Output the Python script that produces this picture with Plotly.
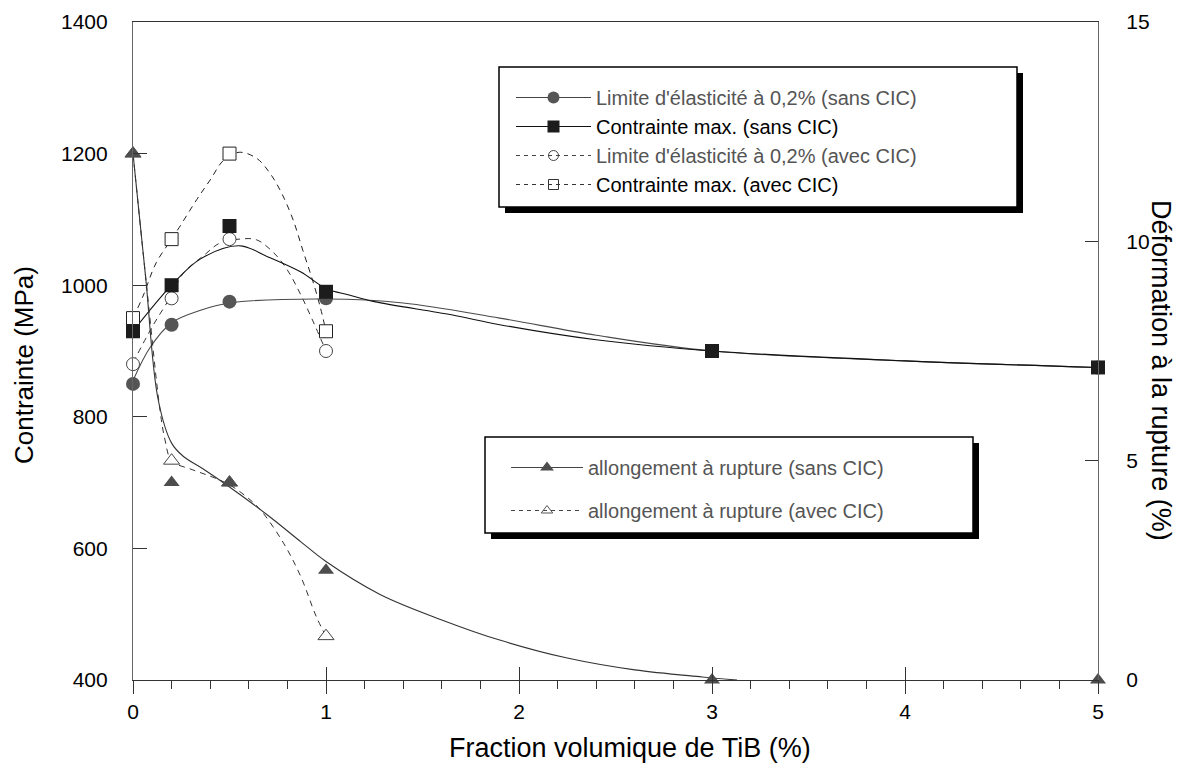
import plotly.graph_objects as go

# ---------------- data ----------------
x_sans = [0, 0.2, 0.5, 1, 3, 5]
ys_sans = [850, 940, 975, 980, 900, 875]          # Limite d'élasticité (sans CIC)
max_sans = [930, 1000, 1090, 990, 900, 875]       # Contrainte max. (sans CIC)
al_sans = [12, 4.5, 4.5, 2.5, 0, 0]               # allongement (sans CIC), %

x_avec = [0, 0.2, 0.5, 1]
ys_avec = [880, 980, 1070, 900]                   # Limite d'élasticité (avec CIC)
max_avec = [950, 1070, 1200, 930]                 # Contrainte max. (avec CIC)
al_avec = [12, 5, 4.5, 1]                         # allongement (avec CIC), %

# fitted curves, as drawn in the picture
c_ys_sans_x = [0, 0.09, 0.2, 0.35, 0.5, 1, 1.4, 1.9, 2.4, 3, 4, 5]
c_ys_sans_y = [855, 906, 943, 962, 973, 979, 973, 950, 924, 900, 885, 875]
c_max_sans_x = [0, 0.2, 0.35, 0.55, 0.7, 0.87, 1, 1.12, 1.25, 1.65, 1.9, 2.4, 3, 4, 5]
c_max_sans_y = [930, 1000, 1040, 1060, 1043, 1020, 995, 985, 975, 955, 940, 917, 900, 885, 875]
c_ys_avec_x = [0, 0.1, 0.2, 0.26, 0.37, 0.45, 0.55, 0.64, 0.73, 0.8, 0.865, 0.93, 1]
c_ys_avec_y = [882, 937, 985, 1018, 1046, 1064, 1070, 1069, 1049, 1023, 988, 947, 900]
c_max_avec_x = [0, 0.05, 0.12, 0.2, 0.24, 0.33, 0.4, 0.47, 0.55, 0.64, 0.71, 0.77, 0.83, 0.88, 0.93, 0.97, 1]
c_max_avec_y = [950, 982, 1034, 1070, 1088, 1130, 1160, 1190, 1202, 1193, 1170, 1140, 1099, 1053, 1008, 967, 930]
c_al_sans_x = [0, 0.065, 0.13, 0.2, 0.26, 0.36, 0.5, 0.7, 0.87, 1, 1.28, 1.6, 1.9, 2.25, 2.6, 2.95, 3.13]
c_al_sans_y = [12, 9.2, 6.4, 5.4, 5.1, 4.82, 4.4, 3.75, 3.15, 2.7, 1.95, 1.37, 0.91, 0.5, 0.23, 0.07, 0]
c_al_avec_x = [0, 0.07, 0.14, 0.166, 0.2, 0.31, 0.41, 0.5, 0.59, 0.66, 0.78, 0.87, 0.95, 1]
c_al_avec_y = [12, 9, 6.15, 5.47, 5.0, 4.79, 4.63, 4.45, 4.17, 3.88, 3.12, 2.35, 1.44, 1.0]

names_top = ["Limite d'élasticité à 0,2% (sans CIC)", "Contrainte max. (sans CIC)",
             "Limite d'élasticité à 0,2% (avec CIC)", "Contrainte max. (avec CIC)"]
names_bot = ["allongement à rupture (sans CIC)", "allongement à rupture (avec CIC)"]

x_title = "Fraction volumique de TiB (%)"
y_title = "Contrainte (MPa)"
y2_title = "Déformation à la rupture (%)"

# ---------------- geometry ----------------
W, H = 1182, 764
OFF = 8                       # page body margin
L, R, T, B = 133, 1098, 22, 680   # plot area in window pixels
pw, ph = R - L, B - T
def px(x): return (x - L) / pw
def py(y): return 1 - (y - T) / ph

FONT = "Liberation Sans, Arial, sans-serif"
GRAY = "#555555"
BLACK = "#1c1c1c"
DASH = "6px,5px"

fig = go.Figure()
sp = 1.0

# curves
fig.add_trace(go.Scatter(x=c_ys_avec_x, y=c_ys_avec_y, mode="lines", line=dict(color="#333", width=1, dash=DASH, shape="spline", smoothing=sp), showlegend=False, hoverinfo="skip"))
fig.add_trace(go.Scatter(x=c_max_avec_x, y=c_max_avec_y, mode="lines", line=dict(color="#222", width=1, dash=DASH, shape="spline", smoothing=sp), showlegend=False, hoverinfo="skip"))
fig.add_trace(go.Scatter(x=c_ys_sans_x, y=c_ys_sans_y, mode="lines", line=dict(color="#4a4a4a", width=1.1, shape="spline", smoothing=sp), showlegend=False, hoverinfo="skip"))
fig.add_trace(go.Scatter(x=c_max_sans_x, y=c_max_sans_y, mode="lines", line=dict(color="#111", width=1.1, shape="spline", smoothing=sp), showlegend=False, hoverinfo="skip"))
fig.add_trace(go.Scatter(x=c_al_avec_x, y=c_al_avec_y, yaxis="y2", mode="lines", line=dict(color="#333", width=1, dash=DASH, shape="spline", smoothing=sp), showlegend=False, hoverinfo="skip"))
fig.add_trace(go.Scatter(x=c_al_sans_x, y=c_al_sans_y, yaxis="y2", mode="lines", line=dict(color="#333", width=1.1, shape="spline", smoothing=sp), showlegend=False, hoverinfo="skip"))

# markers
mk = dict(mode="markers", showlegend=False, cliponaxis=False)
fig.add_trace(go.Scatter(x=x_avec, y=ys_avec, marker=dict(symbol="circle", size=13, color="white", line=dict(color="#444", width=1)), **mk))
fig.add_trace(go.Scatter(x=x_avec, y=max_avec, marker=dict(symbol="square", size=13, color="white", line=dict(color="#222", width=1)), **mk))
fig.add_trace(go.Scatter(x=x_avec, y=al_avec, yaxis="y2", marker=dict(symbol="triangle-up", size=14, color="white", line=dict(color="#444", width=1)), **mk))
fig.add_trace(go.Scatter(x=x_sans, y=ys_sans, marker=dict(symbol="circle", size=14, color=GRAY, line=dict(width=0)), **mk))
fig.add_trace(go.Scatter(x=x_sans, y=max_sans, marker=dict(symbol="square", size=14, color=BLACK, line=dict(width=0)), **mk))
fig.add_trace(go.Scatter(x=x_sans, y=al_sans, yaxis="y2", marker=dict(symbol="triangle-up", size=14, color="#4d4d4d", line=dict(width=0)), **mk))

# legend entries (no data)
fig.add_trace(go.Scatter(x=[None], y=[None], mode="lines+markers", name="<span style='color:#555'>" + names_top[0] + "</span>",
                         line=dict(color="#444", width=1), marker=dict(symbol="circle", size=12, color=GRAY), legend="legend"))
fig.add_trace(go.Scatter(x=[None], y=[None], mode="lines+markers", name=names_top[1],
                         line=dict(color="#111", width=1), marker=dict(symbol="square", size=12, color=BLACK), legend="legend"))
fig.add_trace(go.Scatter(x=[None], y=[None], mode="lines+markers", name="<span style='color:#555'>" + names_top[2] + "</span>",
                         line=dict(color="#444", width=1, dash="4px,4px"), marker=dict(symbol="circle-open", size=10, color="#444", line=dict(width=1)), legend="legend"))
fig.add_trace(go.Scatter(x=[None], y=[None], mode="lines+markers", name=names_top[3],
                         line=dict(color="#333", width=1, dash="4px,4px"), marker=dict(symbol="square-open", size=10, color="#333", line=dict(width=1)), legend="legend"))
fig.add_trace(go.Scatter(x=[None], y=[None], yaxis="y2", mode="lines+markers", name=names_bot[0], legendgroup="a",
                         line=dict(color="#444", width=1), marker=dict(symbol="triangle-up", size=12, color="#4d4d4d"), legend="legend2"))
fig.add_trace(go.Scatter(x=[None], y=[None], yaxis="y2", mode="lines+markers", name=names_bot[1], legendgroup="b",
                         line=dict(color="#444", width=1, dash="4px,4px"), marker=dict(symbol="triangle-up-open", size=10, color="#555", line=dict(width=1)), legend="legend2"))

# legend boxes with drop shadow
shapes = []
for (x0, y0, x1, y1) in [(499, 67, 1017, 207), (485, 437, 973, 533)]:
    shapes.append(dict(type="rect", xref="paper", yref="paper", layer="above",
                       x0=px(x0 + 6), x1=px(x1 + 6), y0=py(y1 + 6), y1=py(y0 + 6),
                       fillcolor="black", line=dict(width=0)))
    shapes.append(dict(type="rect", xref="paper", yref="paper", layer="above",
                       x0=px(x0), x1=px(x1), y0=py(y1), y1=py(y0),
                       fillcolor="white", line=dict(color="black", width=1.5)))

axis_common = dict(showgrid=False, zeroline=False, showline=True, linewidth=1.2, automargin=False,
                   tickfont=dict(family=FONT, size=21, color="black"), tickcolor="#333", tickwidth=1)

fig.update_layout(
    width=W, height=H,
    margin=dict(l=L - OFF, r=W - (R - OFF), t=T - OFF, b=H - (B - OFF), pad=0, autoexpand=False),
    paper_bgcolor="white", plot_bgcolor="white",
    font=dict(family=FONT, size=20, color="black"),
    xaxis=dict(range=[0, 5], dtick=1, tick0=0, ticks="outside", ticklen=13, linecolor="#333", mirror=True,
               ticklabelstandoff=0,
               minor=dict(ticks="outside", ticklen=8, dtick=0.2, tick0=0, tickcolor="#333", tickwidth=1),
               **axis_common),
    xaxis2=dict(range=[0, 5], dtick=1, tick0=0, overlaying="x", anchor="y", side="bottom", ticks="inside", ticklen=13,
                showticklabels=False, showline=False, showgrid=False, zeroline=False, tickcolor="#333", tickwidth=1),
    yaxis=dict(range=[400, 1400], dtick=200, ticks="inside", ticklen=14, linecolor="#666",
               ticklabelstandoff=20, **axis_common),
    yaxis2=dict(range=[0, 15], dtick=5, overlaying="y", side="right", ticks="inside", ticklen=13, linecolor="#666",
                ticklabelstandoff=23, **axis_common),
    shapes=shapes,
    legend=dict(x=px(511), y=py(78), xanchor="left", yanchor="top", bgcolor="rgba(0,0,0,0)", borderwidth=0,
                font=dict(family=FONT, size=20, color="black"), itemwidth=75, tracegroupgap=0),
    legend2=dict(x=px(506), y=py(448), xanchor="left", yanchor="top", bgcolor="rgba(0,0,0,0)", borderwidth=0,
                 font=dict(family=FONT, size=20, color="#555"), itemwidth=72, tracegroupgap=14),
    annotations=[
        dict(text=x_title, xref="paper", yref="paper", x=px(630), y=py(748), xanchor="center", yanchor="middle",
             showarrow=False, font=dict(family=FONT, size=27, color="black")),
        dict(text=y_title, xref="paper", yref="paper", x=px(24), y=py(365), xanchor="center", yanchor="middle",
             textangle=-90, showarrow=False, font=dict(family=FONT, size=26, color="black")),
        dict(text=y2_title, xref="paper", yref="paper", x=px(1161), y=py(370), xanchor="center", yanchor="middle",
             textangle=90, showarrow=False, font=dict(family=FONT, size=27, color="black")),
    ],
)
# tie the overlay x axis to a trace so it is drawn
fig.add_trace(go.Scatter(x=[None], y=[None], xaxis="x2", showlegend=False, hoverinfo="skip"))

fig.write_html("out.html")
